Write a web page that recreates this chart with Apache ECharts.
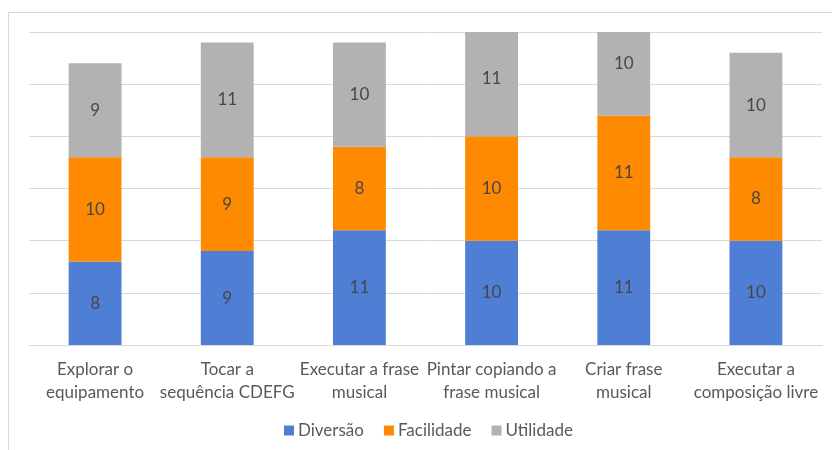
<!DOCTYPE html>
<html><head><meta charset="utf-8">
<script src="https://cdn.jsdelivr.net/npm/echarts@6/dist/echarts.min.js"></script>
<style>html,body{margin:0;padding:0;background:#fff}#c{width:832px;height:450px}</style>
</head><body><div id="c"></div>
<script>
const categories = ['Explorar o\nequipamento','Tocar a\nsequência CDEFG','Executar a frase\nmusical','Pintar copiando a\nfrase musical','Criar frase\nmusical','Executar a\ncomposição livre'];
const diversao = [8, 9, 11, 10, 11, 10];
const facilidade = [10, 9, 8, 10, 11, 8];
const utilidade = [9, 11, 10, 11, 10, 10];
const seriesNames = ['Diversão','Facilidade','Utilidade'];
const colors = ['#4f7fd5','#fd8a00','#b2b2b2'];
const txt = '#595959';
const font = 'Lato';
const vals = [diversao, facilidade, utilidade];

const barSeries = vals.map((v,i)=>({
  name: seriesNames[i], type:'bar', stack:'a', data:v, barWidth:'40%', clip:true,
  itemStyle:{color:colors[i]}, label:{show:false}
}));
const labelSeries = vals.map((v,i)=>({
  name: seriesNames[i]+'_lbl', type:'bar', stack:'b', data:v, barWidth:'40%', barGap:'-100%', clip:false,
  itemStyle:{color:'rgba(0,0,0,0)'}, silent:true, z:5,
  label:{show:true, position:'inside', color:'#474747', fontSize:17, fontFamily:font}
}));

const chart = echarts.init(document.getElementById('c'), null, {renderer:'canvas'});
chart.setOption({
  animation:false,
  color: colors,
  graphic:[{type:'rect', shape:{x:8.5,y:12.5,width:840,height:460}, style:{fill:'none', stroke:'#d9d9d9', lineWidth:1}, silent:true}],
  grid:{left:29, right:10, top:32, bottom:105},
  legend:{data:seriesNames, left:279, top:417, itemWidth:10, itemHeight:10, itemGap:20, icon:'rect',
    textStyle:{color:txt, fontSize:17, fontFamily:font, padding:[0,0,0,-1]}},
  xAxis:{type:'category', data:categories,
    axisLine:{lineStyle:{color:'#d9d9d9'}}, axisTick:{show:false},
    axisLabel:{color:txt, fontSize:17, fontFamily:font, lineHeight:23, margin:13, interval:0}},
  yAxis:{type:'value', min:0, max:30, interval:5, axisLabel:{show:false}, axisLine:{show:false}, axisTick:{show:false},
    splitLine:{lineStyle:{color:'#d9d9d9', width:1}}},
  series: barSeries.concat(labelSeries)
});
</script></body></html>
